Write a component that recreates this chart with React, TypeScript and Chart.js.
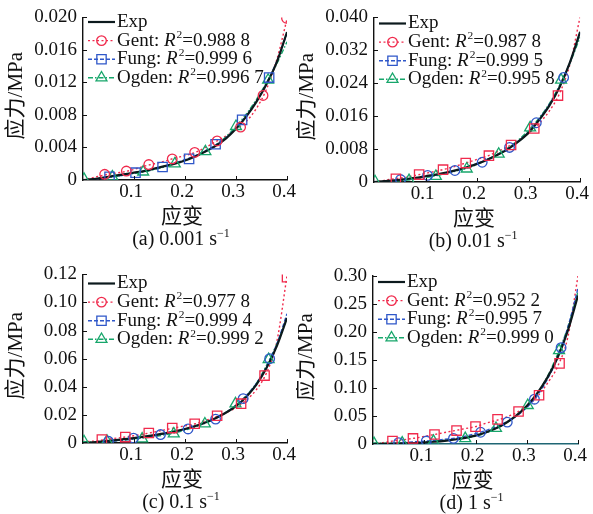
import React, { useEffect, useRef } from 'react';
import { Chart, registerables } from 'chart.js';
Chart.register(...registerables);

const FAMILY = "'Liberation Serif', 'Times New Roman', 'Noto Sans CJK SC', serif";

// ---------- shared data ----------
const strain = [0, 0.02, 0.04, 0.06, 0.08, 0.1, 0.12, 0.14, 0.16, 0.18, 0.2, 0.22, 0.24, 0.26, 0.28, 0.3, 0.32, 0.34, 0.36, 0.38, 0.4];
const xTickValues = [0, 0.1, 0.2, 0.3, 0.4];
const xTickLabels = ['', '0.1', '0.2', '0.3', '0.4'];
const seriesNames = ['Exp', 'Gent', 'Fung', 'Ogden'];
const yTitle = '应力/MPa';
const xTitle = '应变';

// ---------- panel (a) 0.001 s-1 ----------
const expA = [0, 0.0001, 0.0003, 0.0005, 0.0007, 0.0009, 0.0011, 0.0014, 0.0017, 0.002, 0.0024, 0.0029, 0.0035, 0.0042, 0.0051, 0.0063, 0.0078, 0.0096, 0.0118, 0.0145, 0.0182];
const gentA = [0, 0.0003, 0.0006, 0.0008, 0.001, 0.0013, 0.0017, 0.002, 0.0023, 0.0027, 0.003, 0.0034, 0.004, 0.0047, 0.0054, 0.0062, 0.0072, 0.0088, 0.0112, 0.0148, 0.0198];
const fungA = [0, 0.0001, 0.0002, 0.0004, 0.0006, 0.0009, 0.0011, 0.0014, 0.0017, 0.0021, 0.0025, 0.003, 0.0036, 0.0043, 0.0052, 0.0064, 0.0079, 0.0097, 0.0119, 0.0146, 0.018];
const ogdenA = [0, 0.0001, 0.0002, 0.0004, 0.0006, 0.0008, 0.001, 0.0013, 0.0016, 0.002, 0.0024, 0.0029, 0.0035, 0.0043, 0.0053, 0.0066, 0.0081, 0.0099, 0.012, 0.0143, 0.017];
const gentMarksA = [[0.0425, 0.0007], [0.085, 0.0011], [0.129, 0.0019], [0.175, 0.0026], [0.219, 0.0034], [0.263, 0.0048], [0.309, 0.0065], [0.353, 0.0104], [0.399, 0.0199]];
const fungMarksA = [[0.052, 0.0004], [0.103, 0.0009], [0.156, 0.0016], [0.208, 0.0026], [0.26, 0.0044], [0.312, 0.0074], [0.365, 0.0126]];
const ogdenMarksA = [[0.002, 0.0001], [0.0575, 0.0004], [0.118, 0.001], [0.18, 0.002], [0.24, 0.0035], [0.3, 0.0066], [0.363, 0.0123]];
const r2A = ['0.988 8', '0.999 6', '0.996 7'];
const yTicksA = ['0', '0.004', '0.008', '0.012', '0.016', '0.020'];

// ---------- panel (b) 0.01 s-1 ----------
const expB = [0, 0.0002, 0.0004, 0.0007, 0.001, 0.0014, 0.0018, 0.0023, 0.0029, 0.0036, 0.0044, 0.0054, 0.0066, 0.008, 0.0098, 0.012, 0.015, 0.0185, 0.023, 0.029, 0.0365];
const gentB = [0, 0.0004, 0.0008, 0.0011, 0.0016, 0.0021, 0.0026, 0.0032, 0.0039, 0.0047, 0.0055, 0.0063, 0.0074, 0.0086, 0.01, 0.0118, 0.0142, 0.0172, 0.0215, 0.0285, 0.0402];
const fungB = [0, 0.0001, 0.0003, 0.0006, 0.0009, 0.0013, 0.0017, 0.0022, 0.0028, 0.0036, 0.0045, 0.0055, 0.0067, 0.0081, 0.0099, 0.0122, 0.0152, 0.0188, 0.0232, 0.029, 0.0362];
const ogdenB = [0, 0.0001, 0.0002, 0.0004, 0.0007, 0.0011, 0.0015, 0.0021, 0.0027, 0.0033, 0.0043, 0.0055, 0.0068, 0.0083, 0.0102, 0.0126, 0.0155, 0.019, 0.0235, 0.0288, 0.0352];
const gentMarksB = [[0.0425, 0.0008], [0.0876, 0.0018], [0.134, 0.003], [0.178, 0.0046], [0.223, 0.0064], [0.266, 0.009], [0.311, 0.013], [0.357, 0.021]];
const fungMarksB = [[0.0515, 0.0006], [0.104, 0.0016], [0.157, 0.0028], [0.21, 0.0048], [0.263, 0.0084], [0.315, 0.0144], [0.368, 0.0254]];
const ogdenMarksB = [[0.002, 0.0001], [0.068, 0.0004], [0.12, 0.0014], [0.18, 0.0032], [0.242, 0.0068], [0.303, 0.0132], [0.363, 0.0248]];
const r2B = ['0.987 8', '0.999 5', '0.995 8'];
const yTicksB = ['0', '0.008', '0.016', '0.024', '0.032', '0.040'];

// ---------- panel (c) 0.1 s-1 ----------
const expC = [0, 0.0005, 0.0012, 0.0019, 0.0027, 0.0035, 0.0045, 0.0056, 0.0068, 0.0083, 0.01, 0.0121, 0.0146, 0.0177, 0.0215, 0.0263, 0.0328, 0.0415, 0.0535, 0.069, 0.089];
const gentC = [0.001, 0.0013, 0.0022, 0.0032, 0.0041, 0.0052, 0.0064, 0.0078, 0.0093, 0.0108, 0.0122, 0.0137, 0.016, 0.0185, 0.0214, 0.0252, 0.0305, 0.038, 0.05, 0.072, 0.119];
const fungC = [0, 0.0003, 0.0008, 0.0014, 0.0022, 0.0031, 0.0041, 0.0052, 0.0065, 0.008, 0.0098, 0.0119, 0.0145, 0.0177, 0.0217, 0.0268, 0.0336, 0.0425, 0.0545, 0.0705, 0.092];
const ogdenC = [0.001, 0.0008, 0.001, 0.0015, 0.0021, 0.0028, 0.0036, 0.0046, 0.0058, 0.0073, 0.0092, 0.0114, 0.0141, 0.0175, 0.0217, 0.027, 0.0338, 0.0425, 0.0555, 0.0705, 0.089];
const gentMarksC = [[0.037, 0.0024], [0.083, 0.0042], [0.129, 0.0071], [0.175, 0.0106], [0.219, 0.0137], [0.263, 0.0194], [0.31, 0.028], [0.356, 0.048], [0.4, 0.118]];
const fungMarksC = [[0.05, 0.0012], [0.099, 0.0035], [0.152, 0.006], [0.206, 0.01], [0.26, 0.017], [0.314, 0.0316], [0.366, 0.06]];
const ogdenMarksC = [[0.002, 0.001], [0.047, 0.0014], [0.116, 0.003], [0.178, 0.0066], [0.239, 0.0137], [0.299, 0.028], [0.364, 0.0595]];
const r2C = ['0.977 8', '0.999 4', '0.999 2'];
const yTicksC = ['0', '0.02', '0.04', '0.06', '0.08', '0.10', '0.12'];

// ---------- panel (d) 1 s-1 ----------
const expD = [0, 0.0002, 0.0005, 0.001, 0.0017, 0.0027, 0.004, 0.0057, 0.008, 0.011, 0.015, 0.0205, 0.028, 0.038, 0.051, 0.068, 0.09, 0.118, 0.154, 0.202, 0.265];
const gentD = [0, 0.0025, 0.0055, 0.0078, 0.0102, 0.0135, 0.017, 0.0205, 0.024, 0.0275, 0.031, 0.037, 0.042, 0.048, 0.056, 0.068, 0.084, 0.108, 0.138, 0.19, 0.3];
const fungD = [0, 0.0003, 0.001, 0.0025, 0.004, 0.005, 0.0065, 0.0085, 0.0105, 0.014, 0.0185, 0.024, 0.031, 0.039, 0.05, 0.065, 0.086, 0.115, 0.154, 0.208, 0.278];
const ogdenD = [0.002, 0.0015, 0.0015, 0.002, 0.003, 0.004, 0.0052, 0.0068, 0.0085, 0.0105, 0.014, 0.0195, 0.0275, 0.0375, 0.0505, 0.068, 0.09, 0.12, 0.16, 0.208, 0.272];
const gentMarksD = [[0.038, 0.0053], [0.078, 0.01], [0.12, 0.017], [0.163, 0.024], [0.2, 0.031], [0.243, 0.044], [0.284, 0.058], [0.324, 0.087], [0.364, 0.144]];
const fungMarksD = [[0.05, 0.0024], [0.104, 0.0053], [0.157, 0.01], [0.21, 0.021], [0.262, 0.039], [0.315, 0.08], [0.367, 0.172]];
const ogdenMarksD = [[0.002, 0.001], [0.057, 0.002], [0.118, 0.005], [0.18, 0.01], [0.24, 0.028], [0.302, 0.069], [0.363, 0.167]];
const r2D = ['0.952 2', '0.995 7', '0.999 0'];
const yTicksD = ['0', '0.05', '0.10', '0.15', '0.20', '0.25', '0.30'];

const panels = [
  { id: 'a', caption: '(a) 0.001 s', exp: expA, gent: gentA, fung: fungA, ogden: ogdenA, gm: gentMarksA, fm: fungMarksA, om: ogdenMarksA, r2: r2A, yTicks: yTicksA, yMax: 0.02, yStep: 0.004, gentStyle: 'circle', fungStyle: 'rect' },
  { id: 'b', caption: '(b) 0.01 s', exp: expB, gent: gentB, fung: fungB, ogden: ogdenB, gm: gentMarksB, fm: fungMarksB, om: ogdenMarksB, r2: r2B, yTicks: yTicksB, yMax: 0.04, yStep: 0.008, gentStyle: 'rect', fungStyle: 'circle' },
  { id: 'c', caption: '(c) 0.1 s', exp: expC, gent: gentC, fung: fungC, ogden: ogdenC, gm: gentMarksC, fm: fungMarksC, om: ogdenMarksC, r2: r2C, yTicks: yTicksC, yMax: 0.12, yStep: 0.02, gentStyle: 'rect', fungStyle: 'circle' },
  { id: 'd', caption: '(d) 1 s', exp: expD, gent: gentD, fung: fungD, ogden: ogdenD, gm: gentMarksD, fm: fungMarksD, om: ogdenMarksD, r2: r2D, yTicks: yTicksD, yMax: 0.3, yStep: 0.05, gentStyle: 'rect', fungStyle: 'circle' },
];

// ---------- layout (pixel geometry, not data) ----------
const LAYOUT = [
  { L: 0, T: 0, W: 300, H: 257, l: 83, r: 287, t: 15, b: 180, legendY: 22 },
  { L: 296, T: 0, W: 297, H: 257, l: 374, r: 581, t: 15, b: 182, legendY: 23.5 },
  { L: 0, T: 257, W: 300, H: 257, l: 83, r: 287, t: 273, b: 443, legendY: 283.5 },
  { L: 296, T: 257, W: 297, H: 257, l: 373, r: 578, t: 276, b: 444, legendY: 282 },
];

const EXP_COLOR = '#0c1a1d';
const GENT_COLOR = '#f02a4c';
const FUNG_COLOR = '#2f57c9';
const OGDEN_COLOR = '#17a66b';
const GENT_DASH = [2, 2.5];
const FUNG_DASH = [4, 2];
const OGDEN_DASH = [5, 2, 1.5, 2];
const RADIUS: Record<string, number> = { circle: 4.8, rect: 6.6, triangle: 6.3 };
const TICK_SIZE = 19;
const LEGEND_SIZE = 19;
const CAPTION_SIZE = 20;
const TITLE_SIZE = 21;

function lineDs(ys: number[], color: string, dash: number[], width: number, order: number) {
  return {
    data: strain.map((x, i) => ({ x, y: ys[i] })),
    showLine: true,
    borderColor: color,
    borderWidth: width,
    borderDash: dash,
    pointRadius: 0,
    cubicInterpolationMode: 'monotone',
    fill: false,
    order,
  };
}

function markDs(pts: number[][], color: string, style: string, order: number) {
  return {
    data: pts.map(([x, y]) => ({ x, y })),
    showLine: false,
    pointStyle: style,
    pointRadius: RADIUS[style],
    pointBorderColor: color,
    pointBackgroundColor: 'rgba(255,255,255,0)',
    pointBorderWidth: 1.3,
    borderColor: color,
    order,
  };
}

function drawMarker(ctx: CanvasRenderingContext2D, style: string, x: number, y: number, color: string) {
  const r = RADIUS[style];
  ctx.save();
  ctx.strokeStyle = color;
  ctx.lineWidth = 1.3;
  ctx.setLineDash([]);
  ctx.beginPath();
  if (style === 'circle') {
    ctx.arc(x, y, r, 0, Math.PI * 2);
  } else if (style === 'rect') {
    const s = Math.SQRT1_2 * r;
    ctx.rect(x - s, y - s, 2 * s, 2 * s);
  } else {
    let a = 0;
    ctx.moveTo(x + Math.sin(a) * r, y - Math.cos(a) * r);
    a += (2 * Math.PI) / 3;
    ctx.lineTo(x + Math.sin(a) * r, y - Math.cos(a) * r);
    a += (2 * Math.PI) / 3;
    ctx.lineTo(x + Math.sin(a) * r, y - Math.cos(a) * r);
    ctx.closePath();
  }
  ctx.stroke();
  ctx.restore();
}

type Part = { text: string; italic?: boolean; sup?: boolean };

function partsWidth(ctx: CanvasRenderingContext2D, parts: Part[], size: number) {
  let w = 0;
  for (const p of parts) {
    const s = p.sup ? size * 0.6 : size;
    ctx.font = `${p.italic ? 'italic ' : ''}${s}px ${FAMILY}`;
    w += ctx.measureText(p.text).width + (p.italic ? 1 : 0);
  }
  return w;
}

function drawParts(ctx: CanvasRenderingContext2D, x: number, y: number, parts: Part[], size: number) {
  let cx = x;
  ctx.textAlign = 'left';
  ctx.textBaseline = 'middle';
  for (const p of parts) {
    const s = p.sup ? size * 0.6 : size;
    ctx.font = `${p.italic ? 'italic ' : ''}${s}px ${FAMILY}`;
    const dy = p.sup ? -size * 0.3 : 0;
    ctx.fillText(p.text, cx, y + dy);
    cx += ctx.measureText(p.text).width + (p.italic ? 1 : 0);
  }
}

function makeDecor(p: any, lay: any) {
  return {
    id: 'decor' + p.id,
    afterDraw(chart: any) {
      const ctx: CanvasRenderingContext2D = chart.ctx;
      const a = chart.chartArea;
      const xs = chart.scales.x;
      const ys = chart.scales.y;
      ctx.save();
      // inward ticks
      ctx.strokeStyle = '#111';
      ctx.lineWidth = 1;
      ctx.setLineDash([]);
      xTickValues.forEach((v) => {
        if (v === 0) return;
        const px = Math.round(xs.getPixelForValue(v)) + 0.5;
        ctx.beginPath();
        ctx.moveTo(px, a.bottom);
        ctx.lineTo(px, a.bottom - 4);
        ctx.stroke();
      });
      p.yTicks.forEach((_: string, i: number) => {
        if (i === 0) return;
        const py = Math.round(ys.getPixelForValue(i * p.yStep)) + 0.5;
        ctx.beginPath();
        ctx.moveTo(a.left, py);
        ctx.lineTo(a.left + 4, py);
        ctx.stroke();
      });

      ctx.fillStyle = '#111';
      // y title
      ctx.save();
      ctx.translate(a.left - 66.5, (a.top + a.bottom) / 2 - 3);
      ctx.rotate(-Math.PI / 2);
      ctx.textAlign = 'center';
      ctx.textBaseline = 'middle';
      ctx.font = `${TITLE_SIZE}px ${FAMILY}`;
      ctx.fillText(yTitle, 0, 0);
      ctx.restore();

      // x title
      ctx.textAlign = 'center';
      ctx.textBaseline = 'middle';
      ctx.font = `${TITLE_SIZE}px ${FAMILY}`;
      ctx.fillText(xTitle, (a.left + a.right) / 2 - 3, a.bottom + 37);

      // caption
      const cap: Part[] = [{ text: p.caption }, { text: '−1', sup: true }];
      const cw = partsWidth(ctx, cap, CAPTION_SIZE);
      ctx.fillStyle = '#111';
      drawParts(ctx, (a.left + a.right) / 2 - 4 - cw / 2, a.bottom + 60, cap, CAPTION_SIZE);

      // legend
      const ly0 = lay.legendY - lay.T;
      const lx = a.left + 5;
      const lw = 27;
      const tx = a.left + 34;
      const rows = [
        { color: EXP_COLOR, dash: [] as number[], width: 2.2, style: '', parts: [{ text: seriesNames[0] }] },
        { color: GENT_COLOR, dash: GENT_DASH, width: 1.4, style: 'circle', parts: [{ text: seriesNames[1] + ': ' }, { text: 'R', italic: true }, { text: '2', sup: true }, { text: '=' + p.r2[0] }] },
        { color: FUNG_COLOR, dash: FUNG_DASH, width: 1.4, style: 'rect', parts: [{ text: seriesNames[2] + ': ' }, { text: 'R', italic: true }, { text: '2', sup: true }, { text: '=' + p.r2[1] }] },
        { color: OGDEN_COLOR, dash: OGDEN_DASH, width: 1.4, style: 'triangle', parts: [{ text: seriesNames[3] + ': ' }, { text: 'R', italic: true }, { text: '2', sup: true }, { text: '=' + p.r2[2] }] },
      ];
      rows.forEach((row, i) => {
        const y = ly0 + i * 18.6;
        ctx.save();
        ctx.strokeStyle = row.color;
        ctx.lineWidth = row.width;
        ctx.setLineDash(row.dash);
        ctx.beginPath();
        ctx.moveTo(lx, y);
        ctx.lineTo(lx + lw, y);
        ctx.stroke();
        ctx.restore();
        if (row.style) drawMarker(ctx, row.style, lx + lw / 2, y, row.color);
        ctx.fillStyle = '#111';
        drawParts(ctx, tx, y, row.parts, LEGEND_SIZE);
      });
      ctx.restore();
    },
  };
}

function Panel({ p, lay }: { p: any; lay: any }) {
  const ref = useRef<HTMLCanvasElement | null>(null);
  useEffect(() => {
    if (!ref.current) return;
    const datasets: any[] = [
      markDs(p.gm, GENT_COLOR, p.gentStyle, 0),
      markDs(p.fm, FUNG_COLOR, p.fungStyle, 0),
      markDs(p.om, OGDEN_COLOR, 'triangle', 0),
      lineDs(p.exp, EXP_COLOR, [], 2.2, 1),
      lineDs(p.fung, FUNG_COLOR, FUNG_DASH, 1.4, 2),
      lineDs(p.ogden, OGDEN_COLOR, OGDEN_DASH, 1.4, 3),
      lineDs(p.gent, GENT_COLOR, GENT_DASH, 1.4, 4),
    ];
    const chart = new Chart(ref.current, {
      type: 'scatter',
      data: { datasets },
      plugins: [makeDecor(p, lay)],
      options: {
        responsive: false,
        animation: false,
        events: [],
        layout: { padding: { left: 0, top: lay.t - lay.T, right: lay.L + lay.W - lay.r, bottom: 0 } },
        plugins: { legend: { display: false }, tooltip: { enabled: false } },
        scales: {
          x: {
            type: 'linear',
            min: 0,
            max: 0.4,
            grid: { display: false, drawTicks: false },
            border: { display: true, color: p.id === 'd' ? '#1f6674' : '#111', width: 1.4 },
            ticks: {
              stepSize: 0.1,
              autoSkip: false,
              maxRotation: 0,
              padding: 1,
              labelOffset: -3,
              color: '#111',
              font: { family: FAMILY, size: TICK_SIZE },
              callback: (_v: any, i: number) => xTickLabels[i],
            },
            afterFit: (s: any) => { s.height = lay.T + lay.H - lay.b; },
          },
          y: {
            type: 'linear',
            min: 0,
            max: p.yMax,
            grid: { display: false, drawTicks: false },
            border: { display: true, color: '#111', width: 1.4 },
            ticks: {
              stepSize: p.yStep,
              autoSkip: false,
              padding: 6,
              color: '#111',
              font: { family: FAMILY, size: TICK_SIZE },
              callback: (_v: any, i: number) => p.yTicks[i],
            },
            afterFit: (s: any) => { s.width = lay.l - lay.L; },
          },
        },
      } as any,
    });
    return () => chart.destroy();
  }, []);
  return (
    <canvas
      ref={ref}
      width={lay.W}
      height={lay.H}
      style={{ position: 'absolute', left: lay.L, top: lay.T, width: lay.W, height: lay.H }}
    />
  );
}

export default function App() {
  useEffect(() => {
    document.body.style.margin = '0';
  }, []);
  return (
    <div style={{ position: 'relative', width: 593, height: 514, background: '#fff', overflow: 'hidden' }}>
      {panels.map((p, i) => (
        <Panel key={p.id} p={p} lay={LAYOUT[i]} />
      ))}
    </div>
  );
}
